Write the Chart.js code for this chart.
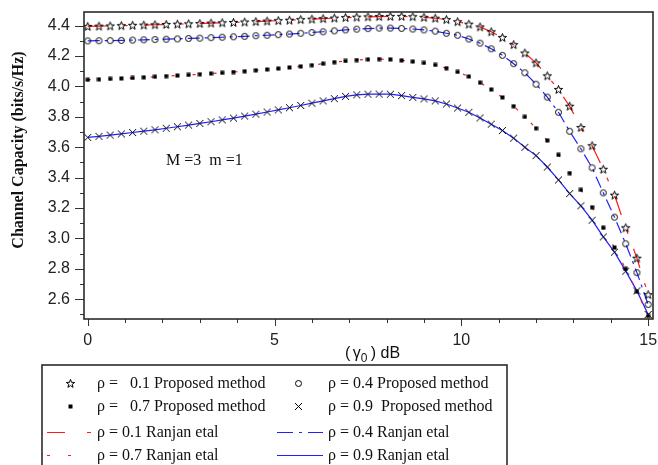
<!DOCTYPE html>
<html>
<head>
<meta charset="utf-8">
<script src="https://cdn.jsdelivr.net/npm/chart.js@4/dist/chart.umd.min.js"></script>
<style>
  html, body { margin: 0; padding: 0; background: #fff; }
  #wrap { position: relative; width: 658px; height: 465px; }
</style>
</head>
<body>
<div id="wrap"><canvas id="c" width="658" height="465"></canvas></div>
<script>
// ---- data ----
const snrDb = [0,0.3,0.6,0.9,1.2,1.5,1.8,2.1,2.4,2.7,3.0,3.3,3.6,3.9,4.2,4.5,4.8,5.1,5.4,5.7,6.0,6.3,6.6,6.9,7.2,7.5,7.8,8.1,8.4,8.7,9.0,9.3,9.6,9.9,10.2,10.5,10.8,11.1,11.4,11.7,12.0,12.3,12.6,12.9,13.2,13.5,13.8,14.1,14.4,14.7,15.0];

const rho01 = [4.395,4.397,4.398,4.400,4.402,4.404,4.406,4.408,4.410,4.412,4.414,4.417,4.419,4.421,4.424,4.427,4.430,4.433,4.436,4.440,4.443,4.446,4.450,4.453,4.456,4.458,4.460,4.461,4.461,4.459,4.455,4.449,4.440,4.426,4.410,4.392,4.360,4.322,4.275,4.220,4.155,4.070,3.980,3.870,3.730,3.610,3.455,3.285,3.070,2.870,2.630];

const rho04 = [4.300,4.301,4.302,4.303,4.305,4.307,4.309,4.311,4.313,4.316,4.318,4.321,4.324,4.327,4.330,4.334,4.337,4.341,4.345,4.350,4.355,4.360,4.366,4.372,4.377,4.381,4.384,4.384,4.382,4.378,4.372,4.364,4.350,4.337,4.312,4.285,4.248,4.205,4.150,4.090,4.015,3.930,3.830,3.705,3.590,3.465,3.300,3.140,2.965,2.775,2.565];

const rho07 = [4.044,4.047,4.050,4.053,4.056,4.060,4.064,4.068,4.072,4.076,4.080,4.085,4.090,4.095,4.100,4.106,4.112,4.118,4.125,4.132,4.140,4.150,4.160,4.168,4.174,4.178,4.180,4.178,4.172,4.164,4.155,4.142,4.120,4.096,4.066,4.025,3.980,3.928,3.870,3.800,3.725,3.645,3.550,3.430,3.320,3.205,3.070,2.940,2.800,2.650,2.490];

const rho09 = [3.665,3.672,3.680,3.688,3.697,3.706,3.715,3.725,3.735,3.746,3.757,3.768,3.780,3.792,3.805,3.818,3.832,3.846,3.860,3.875,3.890,3.905,3.920,3.935,3.945,3.949,3.950,3.949,3.940,3.928,3.918,3.905,3.885,3.858,3.830,3.793,3.752,3.710,3.660,3.600,3.545,3.470,3.385,3.295,3.215,3.120,3.010,2.910,2.785,2.655,2.500];

// tick positions (major ones carry labels)
const xTickVals = [0,1,2,3,4,5,6,7,8,9,10,11,12,13,14,15];
const xTickLabels = ["0","","","","","5","","","","","10","","","","","15"];
const yTickVals = [2.5,2.6,2.7,2.8,2.9,3.0,3.1,3.2,3.3,3.4,3.5,3.6,3.7,3.8,3.9,4.0,4.1,4.2,4.3,4.4];
const yTickLabels = ["","2.6","","2.8","","3.0","","3.2","","3.4","","3.6","","3.8","","4.0","","4.2","","4.4"];

const legendLabels = [
  ["ρ =   0.1 Proposed method", "ρ = 0.4 Proposed method"],
  ["ρ =   0.7 Proposed method", "ρ = 0.9  Proposed method"],
  ["ρ = 0.1 Ranjan etal", "ρ = 0.4 Ranjan etal"],
  ["ρ = 0.7 Ranjan etal", "ρ = 0.9 Ranjan etal"]
];
const yTitle = "Channel Capacity (bits/s/Hz)";
const annotation = "M =3  m =1";

// ---- marker images ----
function mk(w, h, fn) {
  const c = document.createElement('canvas');
  c.width = w; c.height = h;
  const g = c.getContext('2d');
  fn(g);
  return c;
}
const starImg = mk(11, 11, g => {
  g.strokeStyle = '#000'; g.lineWidth = 1;
  g.beginPath();
  for (let i = 0; i < 10; i++) {
    const r = i % 2 === 0 ? 4.4 : 1.8;
    const a = -Math.PI / 2 + i * Math.PI / 5;
    const px = 5.5 + r * Math.cos(a), py = 5.8 + r * Math.sin(a);
    if (i === 0) g.moveTo(px, py); else g.lineTo(px, py);
  }
  g.closePath(); g.stroke();
});
const circImg = mk(9, 9, g => {
  g.strokeStyle = '#000'; g.lineWidth = 1;
  g.beginPath(); g.arc(4.5, 4.5, 3, 0, Math.PI * 2); g.stroke();
});
const sqImg = mk(5, 5, g => { g.fillStyle = '#000'; g.fillRect(0.5, 0.5, 4, 4); });
const crossImg = mk(9, 9, g => {
  g.strokeStyle = '#000'; g.lineWidth = 1;
  g.beginPath(); g.moveTo(1, 1); g.lineTo(8, 8); g.moveTo(8, 1); g.lineTo(1, 8); g.stroke();
});

const pts = arr => snrDb.map((x, i) => ({ x: x, y: arr[i] }));

const RED = '#ff1a1a', BLUE = '#1f1fff';
const dashA = [20, 16, 4, 16];
const dashB = [12, 5, 3, 5];
const dashC = [3, 18];

function markerDs(label, arr, img) {
  return { label, data: pts(arr), showLine: false, pointStyle: img, pointRadius: 4,
           borderColor: '#000', backgroundColor: '#000' };
}
function lineDs(label, arr, color, dash) {
  return { label, data: pts(arr), showLine: true, pointRadius: 0, borderColor: color,
           borderWidth: 1.2, borderDash: dash, tension: 0, fill: false };
}

const decorPlugin = {
  id: 'decor',
  afterDraw(chart) {
    const ctx = chart.ctx, a = chart.chartArea;
    const xs = chart.scales.x, ys = chart.scales.y;
    ctx.save();
    // ticks
    ctx.strokeStyle = '#333'; ctx.lineWidth = 1;
    xs.ticks.forEach((t, i) => {
      const px = Math.round(xs.getPixelForValue(t.value)) + 0.5;
      const major = xTickLabels[i] !== '';
      ctx.beginPath(); ctx.moveTo(px, a.bottom); ctx.lineTo(px, a.bottom + (major ? 7 : 4)); ctx.stroke();
    });
    ys.ticks.forEach((t, i) => {
      const py = Math.round(ys.getPixelForValue(t.value)) + 0.5;
      const major = yTickLabels[i] !== '';
      ctx.beginPath(); ctx.moveTo(a.left, py); ctx.lineTo(a.left - (major ? 9 : 4), py); ctx.stroke();
    });
    // frame
    ctx.strokeStyle = '#2b2b2b'; ctx.lineWidth = 1.6;
    ctx.strokeRect(a.left, a.top, a.right - a.left, a.bottom - a.top);

    // y title
    ctx.fillStyle = '#111';
    ctx.font = 'bold 16px "Liberation Serif"';
    ctx.textAlign = 'center'; ctx.textBaseline = 'middle';
    ctx.save(); ctx.translate(19, 150); ctx.rotate(-Math.PI / 2);
    ctx.fillText(yTitle, 0, 0); ctx.restore();

    // x title  (γ0) dB
    ctx.textAlign = 'left'; ctx.textBaseline = 'alphabetic';
    ctx.font = '16px "Liberation Sans"';
    let x0 = 345;
    ctx.fillText('(', x0, 358); x0 += ctx.measureText('( ').width - 2;
    ctx.fillText('γ', x0, 358); x0 += ctx.measureText('γ').width;
    ctx.font = '12px "Liberation Sans"';
    ctx.fillText('0', x0, 362); x0 += ctx.measureText('0 ').width;
    ctx.font = '16px "Liberation Sans"';
    ctx.fillText(') dB', x0, 358);

    // annotation
    ctx.font = '16px "Liberation Serif"';
    ctx.fillText(annotation, 166, 165);

    // legend box
    ctx.strokeStyle = '#2b2b2b'; ctx.lineWidth = 1.6;
    ctx.strokeRect(42, 365, 465, 110);
    const rows = [383, 406, 432, 455];
    const txtX = [97, 328];
    ctx.font = '16px "Liberation Serif"';
    ctx.fillStyle = '#111';
    ctx.textBaseline = 'middle';
    rows.forEach((ry, r) => {
      txtX.forEach((tx, cI) => ctx.fillText(legendLabels[r][cI], tx, ry + 1));
    });
    // marker samples
    const drawImg = (img, cx, cy) => ctx.drawImage(img, Math.round(cx - img.width / 2), Math.round(cy - img.height / 2));
    drawImg(starImg, 70, rows[0]);
    drawImg(circImg, 298, rows[0]);
    drawImg(sqImg, 70, rows[1]);
    drawImg(crossImg, 298, rows[1]);
    // line samples
    const seg = (x1, x2, y, color, dash) => {
      ctx.strokeStyle = color; ctx.lineWidth = 1.2; ctx.setLineDash(dash);
      ctx.beginPath(); ctx.moveTo(x1, y + 0.5); ctx.lineTo(x2, y + 0.5); ctx.stroke();
    };
    seg(47, 92, rows[2], RED, [18, 22, 4, 30]);
    seg(277, 323, rows[2], BLUE, [16, 6, 3, 6]);
    seg(47, 72, rows[3], RED, [3, 18]);
    seg(277, 323, rows[3], BLUE, []);
    ctx.setLineDash([]);
    ctx.restore();
  }
};

new Chart(document.getElementById('c'), {
  type: 'scatter',
  data: {
    datasets: [
      markerDs('ρ = 0.1 Proposed method', rho01, starImg),
      markerDs('ρ = 0.4 Proposed method', rho04, circImg),
      markerDs('ρ = 0.7 Proposed method', rho07, sqImg),
      markerDs('ρ = 0.9 Proposed method', rho09, crossImg),
      lineDs('ρ = 0.1 Ranjan etal', rho01, RED, dashA),
      lineDs('ρ = 0.4 Ranjan etal', rho04, BLUE, dashB),
      lineDs('ρ = 0.7 Ranjan etal', rho07, RED, dashC),
      lineDs('ρ = 0.9 Ranjan etal', rho09, BLUE, [])
    ]
  },
  options: {
    responsive: false,
    animation: false,
    devicePixelRatio: 1,
    layout: { padding: { top: 12, right: 3, left: 0, bottom: 0 } },
    plugins: { legend: { display: false }, tooltip: { enabled: false } },
    scales: {
      x: {
        type: 'linear', min: -0.1, max: 15.13,
        afterBuildTicks: s => { s.ticks = xTickVals.map(v => ({ value: v })); },
        afterFit: s => { s.height = 146; s.paddingLeft = 0; s.paddingRight = 0; },
        grid: { display: false, drawTicks: false },
        border: { display: false },
        ticks: {
          padding: 12, color: '#222', maxRotation: 0, minRotation: 0, autoSkip: false,
          font: { family: 'Liberation Sans', size: 16 },
          callback: (v, i) => xTickLabels[i]
        }
      },
      y: {
        type: 'linear', min: 2.47, max: 4.49,
        afterBuildTicks: s => { s.ticks = yTickVals.map(v => ({ value: v })); },
        afterFit: s => { s.width = 84; s.paddingTop = 0; s.paddingBottom = 0; },
        grid: { display: false, drawTicks: false },
        border: { display: false },
        ticks: {
          padding: 14, color: '#222', autoSkip: false,
          font: { family: 'Liberation Sans', size: 16 },
          callback: (v, i) => yTickLabels[i]
        }
      }
    }
  },
  plugins: [decorPlugin]
});
</script>
</body>
</html>
